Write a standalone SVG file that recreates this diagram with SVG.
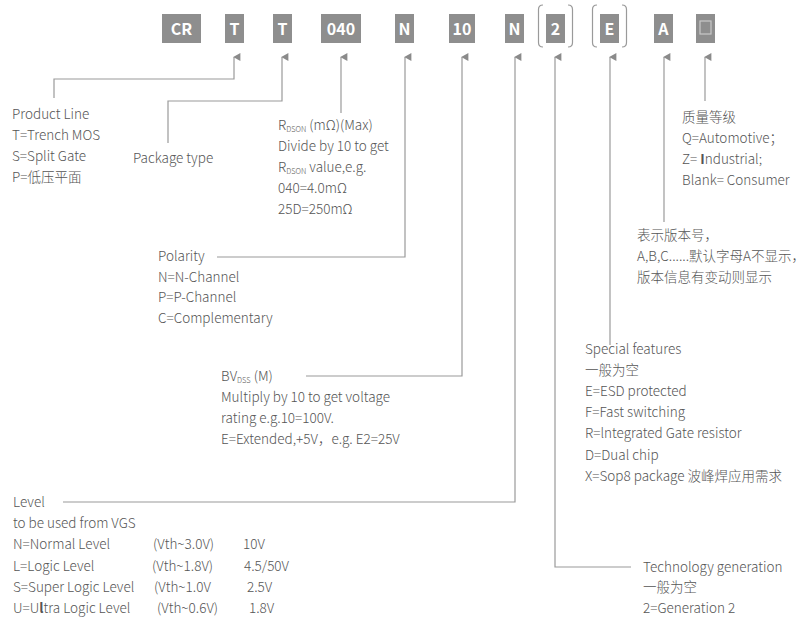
<svg xmlns="http://www.w3.org/2000/svg" width="809" height="620" viewBox="0 0 809 620">
<defs>
<style>
.bx{fill:#8e8e8e}
.bt{fill:#fff;font-family:"Noto Sans CJK SC","Noto Sans",sans-serif;font-size:16px;font-weight:700;text-anchor:middle}
.t{fill:#555;font-family:"Noto Sans CJK SC","Noto Sans","Liberation Sans",sans-serif;font-size:13.5px;font-weight:300}
.sub{font-size:7.5px}
.b{font-weight:700}
.ln{fill:none;stroke:#9a9a9a;stroke-width:1.2}
.br{fill:none;stroke:#9a9a9a;stroke-width:1.2}
</style>
<marker id="ah" viewBox="0 0 10 10" refX="5" refY="1" markerWidth="8" markerHeight="8" orient="auto-start-reverse" markerUnits="userSpaceOnUse">
<path d="M0,9 L5,0 L10,9 Z" fill="#8a8a8a"/>
</marker>
</defs>
<rect width="809" height="620" fill="#fff"/>

<g id="code">
<g id="box-CR"><rect class="bx" x="162" y="14" width="39" height="29"/><text class="bt" x="181.5" y="34.5">CR</text></g>
<g id="box-T1"><rect class="bx" x="225" y="14" width="19" height="29"/><text class="bt" x="234.5" y="34.5">T</text></g>
<g id="box-T2"><rect class="bx" x="273" y="14" width="19" height="29"/><text class="bt" x="282.5" y="34.5">T</text></g>
<g id="box-040"><rect class="bx" x="321" y="14" width="40" height="29"/><text class="bt" x="341" y="34.5">040</text></g>
<g id="box-N1"><rect class="bx" x="395" y="14" width="19" height="29"/><text class="bt" x="404.5" y="34.5">N</text></g>
<g id="box-10"><rect class="bx" x="449" y="14" width="26" height="29"/><text class="bt" x="462" y="34.5">10</text></g>
<g id="box-N2"><rect class="bx" x="505" y="14" width="19" height="29"/><text class="bt" x="514.5" y="34.5">N</text></g>
<g id="box-2"><rect class="bx" x="546" y="14" width="19" height="29"/><text class="bt" x="555.5" y="34.5">2</text>
<path class="br" d="M543,5 Q538.5,5 538.5,9.5 V42.5 Q538.5,47 543,47"/><path class="br" d="M568,5 Q572.5,5 572.5,9.5 V42.5 Q572.5,47 568,47"/></g>
<g id="box-E"><rect class="bx" x="600" y="14" width="19" height="29"/><text class="bt" x="609.5" y="34.5">E</text>
<path class="br" d="M597,5 Q592.5,5 592.5,9.5 V42.5 Q592.5,47 597,47"/><path class="br" d="M622,5 Q626.5,5 626.5,9.5 V42.5 Q626.5,47 622,47"/></g>
<g id="box-A"><rect class="bx" x="654" y="14" width="19" height="29"/><text class="bt" x="663.5" y="34.5">A</text></g>
<g id="box-blank"><rect class="bx" x="696" y="14" width="19" height="29"/><rect x="700" y="21" width="11" height="13" fill="none" stroke="#c8c8c8" stroke-width="1.2"/></g>
</g>

<g id="connectors">
<path class="ln" marker-start="url(#ah)" d="M234,57 V79 H54 V98"/>
<path class="ln" marker-start="url(#ah)" d="M282,57 V101 H168 V143"/>
<path class="ln" marker-start="url(#ah)" d="M341,57 V113"/>
<path class="ln" marker-start="url(#ah)" d="M405,57 V257 H217"/>
<path class="ln" marker-start="url(#ah)" d="M462,57 V376 H306"/>
<path class="ln" marker-start="url(#ah)" d="M515,57 V502 H63"/>
<path class="ln" marker-start="url(#ah)" d="M555,57 V567 H631"/>
<path class="ln" marker-start="url(#ah)" d="M610,57 V345"/>
<path class="ln" marker-start="url(#ah)" d="M664,57 V222"/>
<path class="ln" marker-start="url(#ah)" d="M705,57 V101"/>
</g>

<g id="product-line" class="t">
<text x="12" y="119">Product Line</text>
<text x="12" y="140">T=Trench MOS</text>
<text x="12" y="161">S=Split Gate</text>
<text x="12" y="182">P=低压平面</text>
</g>
<g id="package-type" class="t">
<text x="133" y="163">Package type</text>
</g>
<g id="rdson" class="t">
<text x="278" y="130">R<tspan class="sub" dy="2">DSON</tspan><tspan dy="-2"> (mΩ)(Max)</tspan></text>
<text x="278" y="151">Divide by 10 to get</text>
<text x="278" y="172">R<tspan class="sub" dy="2">DSON</tspan><tspan dy="-2"> value,e.g.</tspan></text>
<text x="278" y="193">040=4.0mΩ</text>
<text x="278" y="214">25D=250mΩ</text>
</g>
<g id="polarity" class="t">
<text x="158" y="261">Polarity</text>
<text x="158" y="282">N=N-Channel</text>
<text x="158" y="302">P=P-Channel</text>
<text x="158" y="323">C=Complementary</text>
</g>
<g id="bvdss" class="t">
<text x="221" y="381">BV<tspan class="sub" dy="2">DSS</tspan><tspan dy="-2"> (M)</tspan></text>
<text x="221" y="402">Multiply by 10 to get voltage</text>
<text x="221" y="423">rating e.g.10=100V.</text>
<text x="221" y="444">E=Extended,+5V，e.g. E2=25V</text>
</g>
<g id="level" class="t">
<text x="13" y="507">Level</text>
<text x="13" y="528">to be used from VGS</text>
<text x="13" y="549">N=Normal Level</text><text x="153" y="549">(Vth~3.0V)</text><text x="243" y="549">10V</text>
<text x="13" y="571">L=Logic Level</text><text x="152" y="571">(Vth~1.8V)</text><text x="244" y="571">4.5/50V</text>
<text x="13" y="592">S=Super Logic Level</text><text x="154" y="592">(Vth~1.0V</text><text x="247" y="592">2.5V</text>
<text x="13" y="613">U=U<tspan class="b">l</tspan>tra Logic Level</text><text x="157" y="613">(Vth~0.6V)</text><text x="249" y="613">1.8V</text>
</g>
<g id="special" class="t">
<text x="585" y="354">Special features</text>
<text x="585" y="375">一般为空</text>
<text x="585" y="396">E=ESD protected</text>
<text x="585" y="417">F=Fast switching</text>
<text x="585" y="438">R=lntegrated Gate resistor</text>
<text x="585" y="460">D=Dual chip</text>
<text x="585" y="481">X=Sop8 package 波峰焊应用需求</text>
</g>
<g id="tech" class="t">
<text x="643" y="572">Technology generation</text>
<text x="643" y="592">一般为空</text>
<text x="643" y="613">2=Generation 2</text>
</g>
<g id="quality" class="t">
<text x="682" y="122">质量等级</text>
<text x="682" y="143">Q=Automotive；</text>
<text x="682" y="164">Z= <tspan class="b">I</tspan>ndustrial;</text>
<text x="682" y="185">Blank= Consumer</text>
</g>
<g id="version" class="t">
<text x="637" y="240">表示版本号，</text>
<text x="637" y="261">A,B,C......默认字母A不显示，</text>
<text x="637" y="282">版本信息有变动则显示</text>
</g>
</svg>
